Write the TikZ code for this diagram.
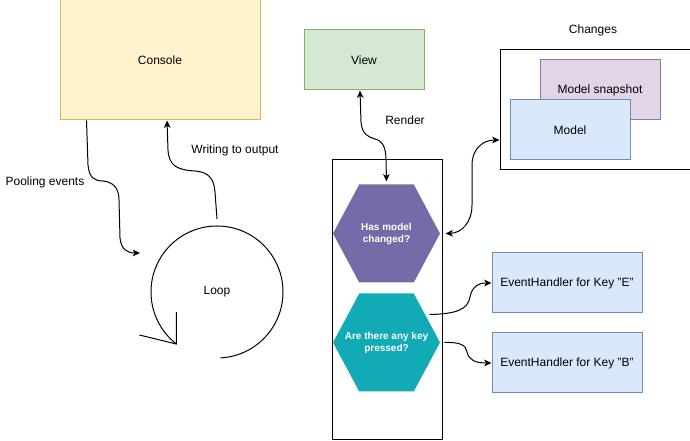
\documentclass[tikz,border=0pt]{standalone}
\usepackage{fontspec}
\setmainfont{Liberation Sans}
\usetikzlibrary{arrows.meta,calc}
\definecolor{consoleF}{HTML}{FFF2CC}
\definecolor{consoleD}{HTML}{D6B656}
\definecolor{viewF}{HTML}{D5E8D4}
\definecolor{viewD}{HTML}{82B366}
\definecolor{snapF}{HTML}{E1D5E7}
\definecolor{snapD}{HTML}{9673A6}
\definecolor{modelF}{HTML}{DAE8FC}
\definecolor{modelD}{HTML}{6C8EBF}
\definecolor{hexP}{HTML}{736CA8}
\definecolor{hexT}{HTML}{12AAB5}
\begin{document}
\begin{tikzpicture}[x=0.75pt,y=-0.75pt,line width=0.75pt,
  font=\fontsize{9}{11}\selectfont,
  >={Stealth[length=5.5pt,width=5pt,inset=1.5pt]},
  hexa/.style={minimum width=80.25pt,minimum height=73.5pt,inner sep=0pt,
    text=white,align=center,font=\bfseries\fontsize{7.5}{9}\selectfont,
    path picture={\fill[#1]
      (path picture bounding box.west)
      -- ($(path picture bounding box.north west)!0.245!(path picture bounding box.north east)$)
      -- ($(path picture bounding box.north west)!0.755!(path picture bounding box.north east)$)
      -- (path picture bounding box.east)
      -- ($(path picture bounding box.south west)!0.755!(path picture bounding box.south east)$)
      -- ($(path picture bounding box.south west)!0.245!(path picture bounding box.south east)$)
      -- cycle;}},
  lbl/.style={inner sep=0pt}]
\useasboundingbox (0,0) rectangle (690,441);

% boxes
\node[draw=consoleD,fill=consoleF,minimum width=150pt,minimum height=90pt,inner sep=0pt] (console) at (160,60) {Console};
\node[draw=viewD,fill=viewF,minimum width=90pt,minimum height=45pt,inner sep=0pt] (view) at (364,60) {View};
\node[draw=black,minimum width=142.5pt,minimum height=90pt,inner sep=0pt] (changes) at (595,110) {};
\node[draw=snapD,fill=snapF,minimum width=90pt,minimum height=45pt,inner sep=0pt] (snap) at (600,90) {Model snapshot};
\node[draw=modelD,fill=modelF,minimum width=90pt,minimum height=45pt,inner sep=0pt] (model) at (570,130) {Model};
\node[lbl] (chlabel) at (593,30) {Changes};
\node[draw=black,minimum width=82.5pt,minimum height=210pt,inner sep=0pt] (col) at (387,300) {};
\node[hexa=hexP] (hexA) at (386.5,233.5) {Has model\\changed?};
\node[hexa=hexT] (hexB) at (386.5,342.5) {Are there any key\\pressed?};
\node[draw=modelD,fill=modelF,minimum width=112.5pt,minimum height=45pt,inner sep=0pt] (evE) at (567,283) {EventHandler for Key "E"};
\node[draw=modelD,fill=modelF,minimum width=112.5pt,minimum height=45pt,inner sep=0pt] (evB) at (567,363) {EventHandler for Key "B"};

% loop
\node[circle,minimum size=99pt,inner sep=0pt] (loop) at (217,292) {Loop};
\draw (loop.center) ++(-87:49.5pt) arc[start angle=-87,end angle=232,radius=49.5pt] coordinate (loopend);
\draw ([shift={(0,-32)}]loopend) -- (loopend) -- ([shift={(-37,-9)}]loopend);

% labels
\node[lbl] (lpool) at (45,182) {Pooling events};
\node[lbl] (lwrite) at (235,150) {Writing to output};
\node[lbl] (lrender) at (405,120) {Render};

% connectors
\coordinate (loopin) at (140,253);
\draw[->] ([xshift=20.25pt]console.south west) -- (88,165)
  .. controls (89,178) and (95,181) .. (103,181)
  .. controls (113,182) and (119,188) .. (119,200) -- (120,238)
  .. controls (121,249) and (127,253) .. (loopin);
\draw[->] ([yshift=5pt]loop.north) -- (215,192)
  .. controls (214,178) and (208,172) .. (195,171)
  .. controls (176,170) and (169,165) .. (168,150)
  -- ([xshift=5.25pt]console.south);
\draw[<->] ([xshift=-3pt]view.south) -- (361,122)
  .. controls (362,134) and (368,137) .. (375,139)
  .. controls (383,141) and (386,148) .. (386,160)
  -- ([yshift=2pt]hexA.north);
\draw[<->] ([xshift=3.75pt]hexA.east)
  .. controls (462,233) and (472,222) .. (472,205) -- (472,165)
  .. controls (472,148) and (484,140) .. ([yshift=-22.5pt]changes.west);
\draw[->] ([shift={(43,-28)}]hexB.center)
  .. controls (455,314) and (468,310) .. (470,297)
  .. controls (472,287) and (478,283) .. (evE.west);
\draw[->] ([shift={(58,0)}]hexB.center)
  .. controls (460,342) and (466,345) .. (467,352)
  .. controls (469,360) and (475,363) .. (evB.west);
\end{tikzpicture}
\end{document}
